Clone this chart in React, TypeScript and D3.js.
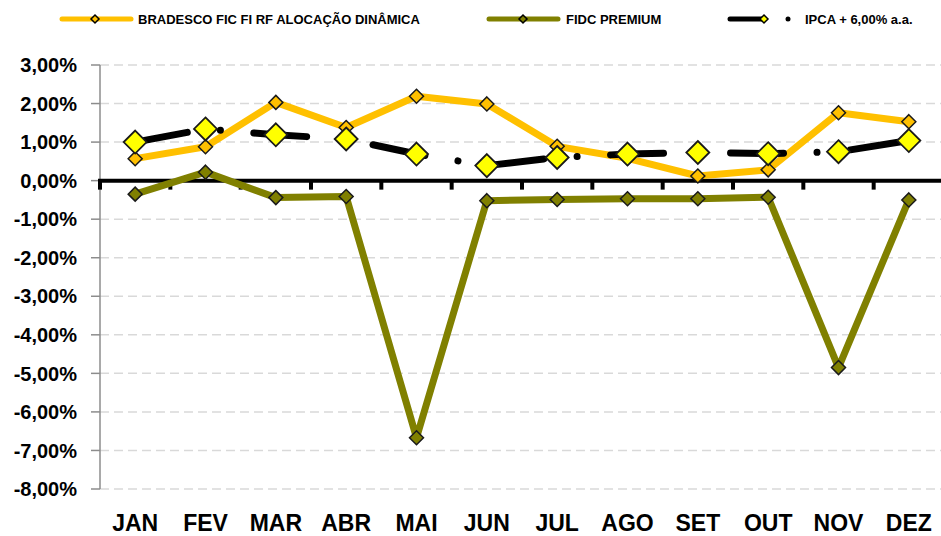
import React from "react";
import * as d3 from "d3";

const months = ["JAN", "FEV", "MAR", "ABR", "MAI", "JUN", "JUL", "AGO", "SET", "OUT", "NOV", "DEZ"];
const bradesco = [0.57, 0.88, 2.03, 1.38, 2.19, 1.99, 0.89, 0.58, 0.12, 0.28, 1.76, 1.53];
const fidc = [-0.35, 0.22, -0.44, -0.41, -6.67, -0.52, -0.49, -0.47, -0.47, -0.43, -4.85, -0.5];
const ipca = [1.0, 1.34, 1.19, 1.08, 0.69, 0.39, 0.6, 0.69, 0.73, 0.7, 0.75, 1.04];
const yTicks = [3, 2, 1, 0, -1, -2, -3, -4, -5, -6, -7, -8];
const seriesNames = ["BRADESCO FIC FI RF ALOCAÇÃO DINÂMICA", "FIDC PREMIUM", "IPCA + 6,00% a.a."];

const W = 941;
const H = 536;
const FONT = "'Liberation Sans', Arial, sans-serif";
const ORANGE = "#FFC000";
const OLIVE = "#808000";
const YELLOW = "#FFFF00";

const diamond = (r: number) => `M0,${-r}L${r},0L0,${r}L${-r},0Z`;
const fmt = (v: number) => `${v.toFixed(2).replace(".", ",")}%`;

export default function App() {
  const x = d3.scaleBand<string>().domain(months).range([100, 944]);
  const bw = x.bandwidth();
  const cx = (i: number) => (x(months[i]) as number) + bw / 2;
  const y = d3.scaleLinear().domain([-8, 3]).range([489, 65]);
  const line = d3
    .line<number>()
    .x((_, i) => cx(i))
    .y((d) => y(d));

  const boundaries = d3.range(months.length + 1).map((k) => 100 + k * bw);

  return (
    <svg
      width={W}
      height={H}
      style={{ position: "absolute", left: 0, top: 0, background: "#fff", display: "block" }}
    >
      <rect x={0} y={0} width={W} height={H} fill="#fff" />
      {/* gridlines */}
      {yTicks
        .filter((t) => t !== 0)
        .map((t) => (
          <line
            key={"g" + t}
            x1={100}
            x2={W}
            y1={y(t)}
            y2={y(t)}
            stroke="#D9D9D9"
            strokeWidth={1.5}
            strokeDasharray="9 5"
          />
        ))}
      {/* y axis */}
      <line x1={100} x2={100} y1={y(3)} y2={y(-8)} stroke="#8C8C8C" strokeWidth={1.5} />
      {yTicks.map((t) => (
        <g key={"t" + t}>
          <line x1={91} x2={100} y1={y(t)} y2={y(t)} stroke="#8C8C8C" strokeWidth={1.5} />
          <text
            x={77}
            y={y(t)}
            dy="0.36em"
            textAnchor="end"
            fontFamily={FONT}
            fontWeight="bold"
            fontSize={20}
            fill="#000"
          >
            {fmt(t)}
          </text>
        </g>
      ))}
      {/* x axis at zero */}
      <line x1={98} x2={W} y1={y(0)} y2={y(0)} stroke="#000" strokeWidth={4} />
      {boundaries.map((b, k) => (
        <line key={"xt" + k} x1={b} x2={b} y1={y(0)} y2={y(0) + 9} stroke="#000" strokeWidth={4} />
      ))}
      {months.map((m, i) => (
        <text
          key={m}
          x={cx(i)}
          y={531}
          textAnchor="middle"
          fontFamily={FONT}
          fontWeight="bold"
          fontSize={23}
          fill="#000"
        >
          {m}
        </text>
      ))}

      {/* BRADESCO */}
      <path d={line(bradesco) as string} fill="none" stroke={ORANGE} strokeWidth={7} strokeLinejoin="round" />
      {bradesco.map((v, i) => (
        <path
          key={"b" + i}
          d={diamond(7)}
          transform={`translate(${cx(i)},${y(v)})`}
          fill={ORANGE}
          stroke="#1a1a1a"
          strokeWidth={1.5}
        />
      ))}
      {/* FIDC */}
      <path d={line(fidc) as string} fill="none" stroke={OLIVE} strokeWidth={7} strokeLinejoin="round" />
      {fidc.map((v, i) => (
        <path
          key={"f" + i}
          d={diamond(7)}
          transform={`translate(${cx(i)},${y(v)})`}
          fill={OLIVE}
          stroke="#1a1a1a"
          strokeWidth={1.5}
        />
      ))}
      {/* IPCA */}
      <path
        d={line(ipca) as string}
        fill="none"
        stroke="#000"
        strokeWidth={7}
        strokeLinecap="round"
        strokeLinejoin="round"
        strokeDasharray="53 33.5 0.01 33.5"
      />
      {ipca.map((v, i) => (
        <path
          key={"p" + i}
          d={diamond(11.5)}
          transform={`translate(${cx(i)},${y(v)})`}
          fill={YELLOW}
          stroke="#1a1a1a"
          strokeWidth={1.8}
        />
      ))}

      {/* legend */}
      <g>
        <line x1={62} x2={131} y1={19} y2={19} stroke={ORANGE} strokeWidth={5} strokeLinecap="round" />
        <path d={diamond(4)} transform="translate(95,19)" fill={ORANGE} stroke="#000" strokeWidth={1.5} />
        <text x={138} y={23.5} fontFamily={FONT} fontWeight="bold" fontSize={13}>
          {seriesNames[0]}
        </text>

        <line x1={489} x2={558} y1={19} y2={19} stroke={OLIVE} strokeWidth={5} strokeLinecap="round" />
        <path d={diamond(4)} transform="translate(523,19)" fill={OLIVE} stroke="#000" strokeWidth={1.5} />
        <text x={566} y={23.5} fontFamily={FONT} fontWeight="bold" fontSize={13}>
          {seriesNames[1]}
        </text>

        <line x1={730} x2={764} y1={19} y2={19} stroke="#000" strokeWidth={5} strokeLinecap="round" />
        <path d={diamond(4)} transform="translate(764,19)" fill={YELLOW} stroke="#000" strokeWidth={1.5} />
        <circle cx={788} cy={19} r={2.5} fill="#000" />
        <text x={805} y={23.5} fontFamily={FONT} fontWeight="bold" fontSize={13}>
          {seriesNames[2]}
        </text>
      </g>
    </svg>
  );
}
